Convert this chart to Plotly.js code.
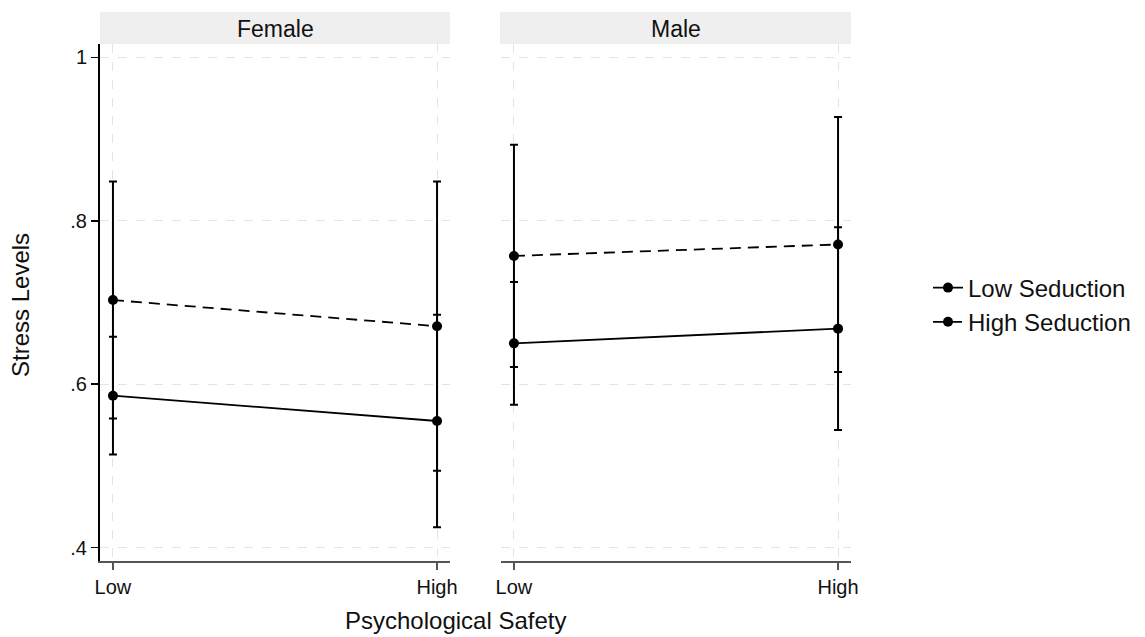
<!DOCTYPE html>
<html>
<head>
<meta charset="utf-8">
<script src="https://cdn.plot.ly/plotly-3.0.1.min.js"></script>
<style>html,body{margin:0;padding:0;background:#fff;}#chart{width:1145px;height:637px;}</style>
</head>
<body>
<div id="chart"></div>
<script>
// Data
const categories = ['Low', 'High'];
const panels = ['Female', 'Male'];
const seriesNames = ['Low Seduction', 'High Seduction'];

const femaleLowSeduction = [0.586, 0.555];
const femaleLowSeductionCI = [0.072, 0.130];
const femaleHighSeduction = [0.703, 0.671];
const femaleHighSeductionCI = [0.145, 0.177];

const maleLowSeduction = [0.650, 0.668];
const maleLowSeductionCI = [0.075, 0.124];
const maleHighSeduction = [0.757, 0.771];
const maleHighSeductionCI = [0.136, 0.156];

const yTickVals = [0.4, 0.6, 0.8, 1];
const yTickText = ['.4', '.6', '.8', '1'];

const FONT = 'Liberation Sans, Arial, Helvetica, sans-serif';
const W = 1145, H = 637;

function mk(name, y, ci, xa, ya, dashed, showlegend) {
  return {
    type: 'scatter', mode: 'lines+markers', name: name,
    x: categories, y: y, xaxis: xa, yaxis: ya,
    showlegend: showlegend,
    line: {color: '#000', width: 1.8, dash: dashed ? '11px,7px' : 'solid'},
    marker: {color: '#000', size: 10},
    error_y: {type: 'data', array: ci, visible: true, color: '#000', thickness: 2, width: 4}
  };
}

const traces = [
  mk(seriesNames[0], femaleLowSeduction, femaleLowSeductionCI, 'x', 'y', false, true),
  mk(seriesNames[1], femaleHighSeduction, femaleHighSeductionCI, 'x', 'y', true, true),
  mk(seriesNames[0], maleLowSeduction, maleLowSeductionCI, 'x2', 'y2', false, false),
  mk(seriesNames[1], maleHighSeduction, maleHighSeductionCI, 'x2', 'y2', true, false)
];

const yDom = [(H - 561) / H, (H - 44) / H];
const yRange = [0.3837, 1.0163];
const gridCol = '#e4e4e4';

const xBase = {
  type: 'category', range: [-0.04, 1.04], showline: true, linecolor: '#555', linewidth: 2,
  ticks: 'outside', ticklen: 7, tickwidth: 1.5, tickcolor: '#555',
  showgrid: true, gridcolor: gridCol, griddash: 'dash', gridwidth: 1,
  zeroline: false, tickfont: {family: FONT, size: 20, color: '#111'}, fixedrange: true
};

const layout = {
  width: W, height: H,
  margin: {l: 0, r: 0, t: 0, b: 0},
  paper_bgcolor: '#fff', plot_bgcolor: '#fff',
  font: {family: FONT, color: '#111'},
  showlegend: true,
  legend: {
    x: 928 / W, xanchor: 'left', y: (H - 305) / H, yanchor: 'middle',
    font: {family: FONT, size: 24, color: '#111'}, bgcolor: 'rgba(0,0,0,0)',
    tracegroupgap: 0
  },
  xaxis: Object.assign({}, xBase, {domain: [100 / W, 450 / W], anchor: 'y'}),
  xaxis2: Object.assign({}, xBase, {domain: [501 / W, 851 / W], anchor: 'y2'}),
  yaxis: {
    domain: yDom, range: yRange, anchor: 'x',
    tickvals: yTickVals, ticktext: yTickText,
    showline: true, linecolor: '#000', linewidth: 2,
    ticks: 'outside', ticklen: 7, tickwidth: 1.5, tickcolor: '#000',
    showgrid: true, gridcolor: gridCol, griddash: 'dash', zeroline: false,
    tickfont: {family: FONT, size: 20, color: '#111'}, fixedrange: true
  },
  yaxis2: {
    domain: yDom, range: yRange, anchor: 'x2',
    tickvals: yTickVals, showticklabels: false, ticks: '',
    showline: false, showgrid: true, gridcolor: gridCol, griddash: 'dash', zeroline: false,
    fixedrange: true
  },
  shapes: [
    {type: 'rect', xref: 'paper', yref: 'paper', x0: 100 / W, x1: 450 / W, y0: (H - 44) / H, y1: (H - 12) / H,
     fillcolor: '#efefef', line: {width: 0}, layer: 'below'},
    {type: 'rect', xref: 'paper', yref: 'paper', x0: 500 / W, x1: 851 / W, y0: (H - 44) / H, y1: (H - 12) / H,
     fillcolor: '#efefef', line: {width: 0}, layer: 'below'}
  ],
  annotations: [
    {text: panels[0], xref: 'paper', yref: 'paper', x: 275 / W, y: (H - 29) / H, showarrow: false,
     xanchor: 'center', yanchor: 'middle', font: {family: FONT, size: 23, color: '#111'}},
    {text: panels[1], xref: 'paper', yref: 'paper', x: 676 / W, y: (H - 29) / H, showarrow: false,
     xanchor: 'center', yanchor: 'middle', font: {family: FONT, size: 23, color: '#111'}},
    {text: 'Stress Levels', xref: 'paper', yref: 'paper', x: 20 / W, y: (H - 305) / H, showarrow: false,
     textangle: -90, xanchor: 'center', yanchor: 'middle', font: {family: FONT, size: 24, color: '#111'}},
    {text: 'Psychological Safety', xref: 'paper', yref: 'paper', x: 455 / W, y: (H - 620) / H, showarrow: false,
     xanchor: 'center', yanchor: 'middle', font: {family: FONT, size: 24, color: '#111'}}
  ]
};

Plotly.newPlot('chart', traces, layout, {displayModeBar: false, staticPlot: true});
</script>
</body>
</html>
